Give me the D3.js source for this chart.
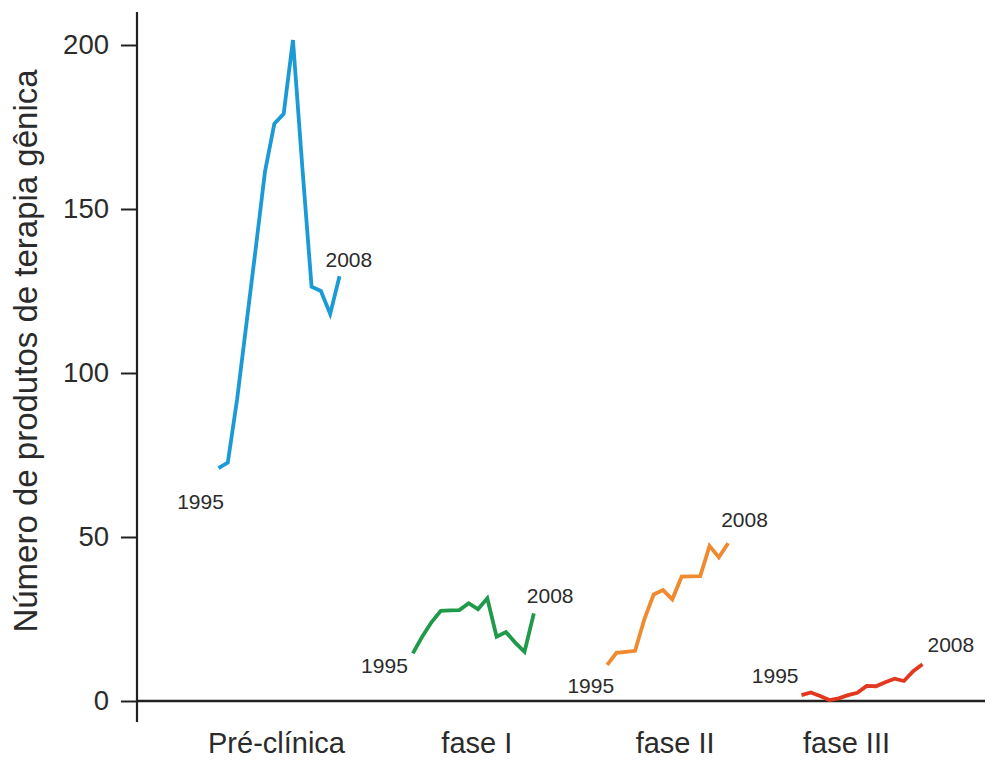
<!DOCTYPE html>
<html>
<head>
<meta charset="utf-8">
<script src="https://cdn.jsdelivr.net/npm/d3@7"></script>
<style>
  html, body { margin: 0; padding: 0; background: #ffffff; }
  svg { display: block; }
  text { font-family: "Liberation Sans", Arial, Helvetica, sans-serif; fill: #2b2b2b; }
</style>
</head>
<body>
<svg id="chart" width="991" height="760"></svg>
<script>
// ---- data ----
const categories = ["Pré-clínica", "fase I", "fase II", "fase III"];
const years = [1995, 1996, 1997, 1998, 1999, 2000, 2001, 2002, 2003, 2004, 2005, 2006, 2007, 2008];
const preClinica = [71, 72.7, 92, 115, 138, 161.5, 176, 179, 201.5, 163, 126.3, 125, 118, 129.5];
const faseI      = [14.5, 19.6, 24, 27.5, 27.6, 27.7, 29.8, 28, 31.3, 19.6, 21, 17.8, 15, 26.7];
const faseII     = [11, 14.7, 15, 15.3, 25, 32.5, 33.8, 31, 37.9, 38, 38.1, 47.3, 43.8, 48.1];
const faseIII    = [1.8, 2.6, 1.5, 0.3, 0.8, 1.8, 2.5, 4.6, 4.5, 5.7, 6.8, 6.1, 9.1, 11.2];
const yTicks = [0, 50, 100, 150, 200];
const yTitle = "Número de produtos de terapia gênica";

const seriesValues = [preClinica, faseI, faseII, faseIII];
const colors = ["#1b9ad6", "#1f9a4b", "#f08a2f", "#e2381f"];

// label layout (offsets), kept separate from data
const categoryLabelShift = [-3, 3, 7, -16];
const startLabelLayout = [
  {dx: -18, dy: 41, anchor: "middle"},
  {dx: -5,  dy: 20, anchor: "end"},
  {dx: 7,   dy: 28, anchor: "end"},
  {dx: -3,  dy: -12, anchor: "end"}
];
const endLabelLayout = [
  {dx: -14, dy: -9},
  {dx: -7,  dy: -10},
  {dx: -7,  dy: -16},
  {dx: 5,   dy: -12}
];

const svg = d3.select("#chart");

const y = d3.scaleLinear().domain([0, 200]).range([701, 45]);
const group = d3.scalePoint().domain(categories).range([279, 862]);
const yearOffset = d3.scaleLinear().domain([years[0], years[years.length - 1]]).range([-60.5, 60.5]);

// y axis
const yAxis = svg.append("g").attr("transform", "translate(137,0)")
  .call(d3.axisLeft(y).tickValues(yTicks).tickSize(16).tickPadding(12).tickFormat(d3.format("d")));
yAxis.select(".domain").remove();
yAxis.selectAll(".tick line").attr("stroke", "#222").attr("stroke-width", 2);
yAxis.selectAll(".tick text").attr("font-size", 27.5).attr("fill", "#2b2b2b")
  .style("font-family", "'Liberation Sans', Arial, sans-serif");
svg.append("line").attr("x1", 137).attr("x2", 137).attr("y1", 12).attr("y2", 722)
  .attr("stroke", "#222").attr("stroke-width", 2.2);

// x axis baseline
svg.append("line").attr("x1", 137).attr("x2", 985).attr("y1", y(0)).attr("y2", y(0))
  .attr("stroke", "#222").attr("stroke-width", 2.4);

// category labels
const xAxis = svg.append("g").attr("transform", "translate(0,701)")
  .call(d3.axisBottom(group).tickSize(0).tickPadding(31));
xAxis.select(".domain").remove();
xAxis.selectAll(".tick text")
  .attr("font-size", 29)
  .attr("fill", "#2b2b2b")
  .attr("dx", (d, i) => categoryLabelShift[i])
  .style("font-family", "'Liberation Sans', Arial, sans-serif");

// y title
svg.append("text")
  .attr("transform", "translate(37,351) rotate(-90)")
  .attr("text-anchor", "middle")
  .attr("font-size", 33)
  .text(yTitle);

// series
const line = d3.line()
  .x(d => d.x)
  .y(d => y(d.v));

categories.forEach((cat, i) => {
  const pts = years.map((yr, j) => ({x: group(cat) + yearOffset(yr), v: seriesValues[i][j]}));
  svg.append("path")
    .attr("d", line(pts))
    .attr("fill", "none")
    .attr("stroke", colors[i])
    .attr("stroke-width", 3.8)
    .attr("stroke-linejoin", "miter")
    .attr("stroke-linecap", "butt");

  const first = pts[0], last = pts[pts.length - 1];
  const sl = startLabelLayout[i], el = endLabelLayout[i];
  svg.append("text")
    .attr("x", first.x + sl.dx).attr("y", y(first.v) + sl.dy)
    .attr("text-anchor", sl.anchor)
    .attr("font-size", 21)
    .text(years[0]);
  svg.append("text")
    .attr("x", last.x + el.dx).attr("y", y(last.v) + el.dy)
    .attr("text-anchor", "start")
    .attr("font-size", 21)
    .text(years[years.length - 1]);
});
</script>
</body>
</html>
